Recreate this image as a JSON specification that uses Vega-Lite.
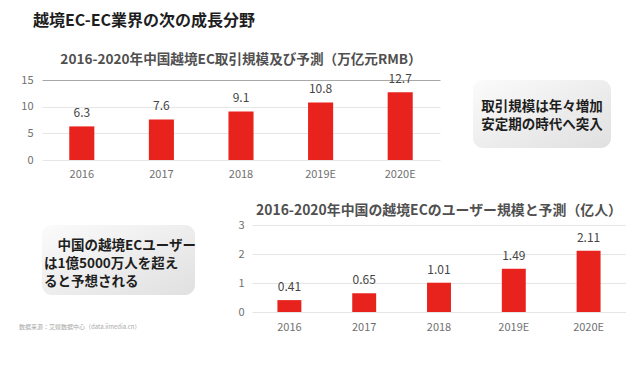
{
  "$schema": "https://vega.github.io/schema/vega-lite/v6.json",
  "background": "white",
  "padding": {"left": 19, "top": 12, "right": 0, "bottom": 0},
  "config": {
    "font": "Noto Sans CJK JP",
    "view": {"stroke": null},
    "axis": {"labelFont": "Noto Sans CJK JP", "labelColor": "#707070", "labelFontSize": 11, "ticks": false, "domain": false, "title": null}
  },
  "title": {"text": "越境EC-EC業界の次の成長分野", "anchor": "start", "fontSize": 16, "fontWeight": "bold", "color": "#1e1e1e", "dx": 14, "offset": 24.5},
  "datasets": {
    "trade": [
      {"year": "2016", "value": 6.3},
      {"year": "2017", "value": 7.6},
      {"year": "2018", "value": 9.1},
      {"year": "2019E", "value": 10.8},
      {"year": "2020E", "value": 12.7}
    ],
    "users": [
      {"year": "2016", "value": 0.41},
      {"year": "2017", "value": 0.65},
      {"year": "2018", "value": 1.01},
      {"year": "2019E", "value": 1.49},
      {"year": "2020E", "value": 2.11}
    ],
    "box1": [{"t": "取引規模は年々増加\n安定期の時代へ突入"}],
    "box2": [{"t": "\u200b　中国の越境ECユーザー\nは1億5000万人を超え\nると予想される"}],
    "source": [{"t": "数据来源：艾媒数据中心（data.iimedia.cn）"}]
  },
  "spacing": 23,
  "vconcat": [
    {
      "columns": 2,
      "align": "none",
      "center": true,
      "spacing": 33,
      "concat": [
        {
          "width": 398,
          "height": 80,
          "title": {"text": "2016-2020年中国越境EC取引規模及び予測（万亿元RMB）", "fontSize": 13.6, "fontWeight": "bold", "color": "#505050", "offset": 6.5},
          "data": {"name": "trade"},
          "encoding": {
            "x": {"field": "year", "type": "nominal", "sort": null, "scale": {"paddingInner": 0.685, "paddingOuter": 0.3425}, "axis": {"labelAngle": 0, "labelPadding": 8}},
            "y": {"field": "value", "type": "quantitative", "scale": {"domain": [0, 15]}, "axis": {"values": [0, 5, 10, 15], "labelPadding": 9, "gridColor": {"condition": {"test": "datum.value === 15", "value": "#a8a8a8"}, "value": "#e6e6e6"}}}
          },
          "layer": [
            {"mark": {"type": "bar", "color": "#e8231e"}},
            {"mark": {"type": "text", "baseline": "bottom", "dy": -6, "fontSize": 12, "color": "#454545"}, "encoding": {"text": {"field": "value", "type": "quantitative", "format": ".1f"}}}
          ]
        },
        {
          "width": 138,
          "height": 68,
          "view": {"cornerRadius": 10, "stroke": null, "fill": {"gradient": "linear", "x1": 0, "y1": 0, "x2": 1, "y2": 1, "stops": [{"offset": 0, "color": "#fbfbfb"}, {"offset": 1, "color": "#e0e0e0"}]}},
          "data": {"name": "box1"},
          "mark": {"type": "text", "lineBreak": "\n", "lineHeight": 18, "align": "center", "baseline": "middle", "dy": -7.5, "fontSize": 13.5, "fontWeight": "bold", "color": "#1e1e1e"},
          "encoding": {"text": {"field": "t"}}
        }
      ]
    },
    {
      "columns": 2,
      "align": "none",
      "center": true,
      "spacing": 40,
      "concat": [
        {
          "width": 153,
          "height": 70,
          "view": {"cornerRadius": 10, "stroke": null, "fill": {"gradient": "linear", "x1": 0, "y1": 0, "x2": 1, "y2": 1, "stops": [{"offset": 0, "color": "#fbfbfb"}, {"offset": 1, "color": "#e0e0e0"}]}},
          "title": {"text": " ", "fontSize": 10, "offset": 13},
          "layer": [
            {
              "data": {"name": "box2"},
              "mark": {"type": "text", "lineBreak": "\n", "lineHeight": 18, "align": "left", "baseline": "middle", "dx": -74.5, "dy": -14, "fontSize": 13.5, "fontWeight": "bold", "color": "#1e1e1e"},
              "encoding": {"text": {"field": "t"}}
            },
            {
              "data": {"name": "source"},
              "mark": {"type": "text", "align": "left", "baseline": "middle", "dx": -99.5, "dy": 67, "fontSize": 6, "color": "#a8a8a8"},
              "encoding": {"text": {"field": "t"}}
            }
          ]
        },
        {
          "width": 374,
          "height": 87,
          "title": {"text": "2016-2020年中国の越境ECのユーザー規模と予測（亿人）", "fontSize": 13.9, "fontWeight": "bold", "color": "#505050", "offset": 1},
          "data": {"name": "users"},
          "encoding": {
            "x": {"field": "year", "type": "nominal", "sort": null, "scale": {"paddingInner": 0.68, "paddingOuter": 0.34}, "axis": {"labelAngle": 0, "labelPadding": 9}},
            "y": {"field": "value", "type": "quantitative", "scale": {"domain": [0, 3]}, "axis": {"values": [0, 1, 2, 3], "labelPadding": 8, "gridColor": "#e6e6e6"}}
          },
          "layer": [
            {"mark": {"type": "bar", "color": "#e8231e"}},
            {"mark": {"type": "text", "baseline": "bottom", "dy": -6, "fontSize": 12, "color": "#454545"}, "encoding": {"text": {"field": "value", "type": "quantitative", "format": ".2f"}}}
          ]
        }
      ]
    }
  ]
}
